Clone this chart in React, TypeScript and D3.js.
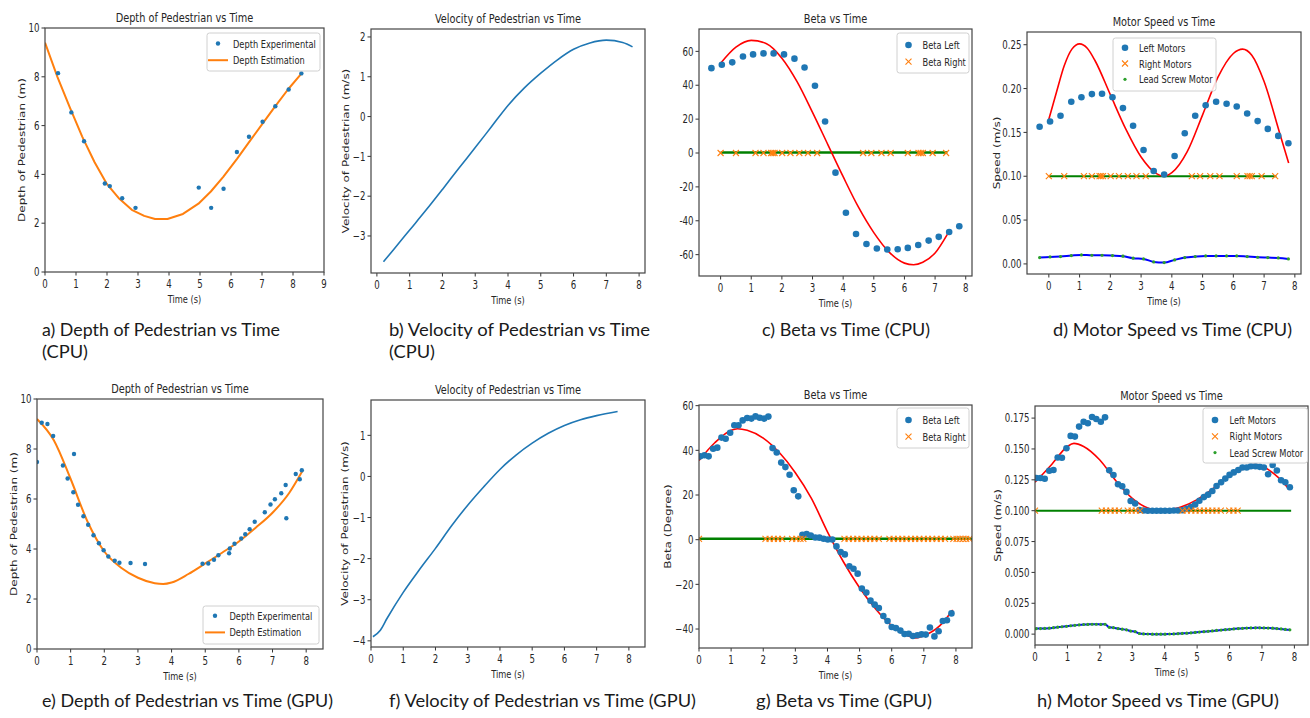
import * as d3 from "d3";
import React, { useEffect, useRef } from "react";

// ---------- CPU run ----------
const depthCpuTime = [0.42, 0.85, 1.26, 1.93, 2.09, 2.49, 2.92, 4.96, 5.36, 5.76, 6.19, 6.58, 7.02, 7.43, 7.86, 8.27];
const depthCpuExp = [8.15, 6.54, 5.36, 3.63, 3.52, 3.02, 2.63, 3.46, 2.63, 3.41, 4.92, 5.54, 6.16, 6.79, 7.48, 8.14];
const depthCpuEstTime = [0, 0.4, 0.8, 1.2, 1.6, 2.0, 2.4, 2.8, 3.2, 3.55, 3.95, 4.45, 4.95, 5.35, 5.75, 6.2, 6.6, 7.0, 7.4, 7.85, 8.25];
const depthCpuEst = [9.4, 8.0, 6.75, 5.55, 4.5, 3.6, 3.0, 2.55, 2.3, 2.17, 2.17, 2.38, 2.8, 3.3, 3.9, 4.65, 5.35, 6.05, 6.75, 7.5, 8.1];

const velCpuTime = [0.2, 0.5, 1, 1.5, 2, 2.5, 3, 3.5, 4, 4.5, 5, 5.5, 6, 6.5, 7, 7.5, 7.8];
const velCpu = [-3.65, -3.35, -2.85, -2.35, -1.83, -1.3, -0.78, -0.25, 0.28, 0.72, 1.09, 1.42, 1.69, 1.85, 1.92, 1.86, 1.75];

const cpuTime = [-0.3, 0.04, 0.38, 0.73, 1.06, 1.4, 1.73, 2.07, 2.41, 2.74, 3.08, 3.41, 3.75, 4.09, 4.42, 4.76, 5.1, 5.44, 5.78, 6.11, 6.45, 6.79, 7.12, 7.46, 7.79];
const betaLeftCpu = [50.1, 52.1, 53.5, 57.0, 58.2, 58.8, 58.8, 58.2, 55.7, 50.5, 39.7, 18.6, -11.6, -35.3, -47.8, -53.7, -56.4, -57.0, -56.8, -56.0, -54.3, -51.7, -49.5, -46.6, -43.2];
const rightCpuTime = [0, 0.5, 1.14, 1.4, 1.65, 1.7, 1.76, 2.01, 2.28, 2.57, 2.85, 3.15, 4.65, 4.92, 5.25, 5.55, 6.11, 6.46, 6.53, 6.6, 6.92, 7.36];
const betaRightCpu = [0, 0, 0, 0, 0, 0, 0, 0, 0, 0, 0, 0, 0, 0, 0, 0, 0, 0, 0, 0, 0, 0];
const betaFitCpuTime = [0, 0.5, 1.0, 1.5, 2.0, 2.5, 3.0, 3.5, 4.0, 4.5, 5.0, 5.5, 6.0, 6.3, 6.6, 7.0, 7.4];
const betaFitCpu = [53, 62.5, 66.5, 64.5, 56, 42, 24, 5, -14, -32, -47, -58.5, -65, -66, -64.5, -59, -48];
const refLineCpuTime = [0, 7.4];
const betaRefCpu = [0.3, 0.3];

const leftMotorCpu = [0.1564, 0.1625, 0.169, 0.185, 0.19, 0.1937, 0.194, 0.19, 0.1777, 0.1575, 0.13, 0.106, 0.102, 0.123, 0.149, 0.169, 0.181, 0.185, 0.1826, 0.1796, 0.1716, 0.1629, 0.154, 0.146, 0.1377];
const rightMotorCpu = [0.1, 0.1, 0.1, 0.1, 0.1, 0.1, 0.1, 0.1, 0.1, 0.1, 0.1, 0.1, 0.1, 0.1, 0.1, 0.1, 0.1, 0.1, 0.1, 0.1, 0.1, 0.1];
const leadScrewCpu = [0.0072, 0.008, 0.0084, 0.0095, 0.0103, 0.0099, 0.0099, 0.0095, 0.0088, 0.0065, 0.0057, 0.0023, 0.0015, 0.0046, 0.0072, 0.0084, 0.0091, 0.0091, 0.0091, 0.0091, 0.0084, 0.0076, 0.0072, 0.0068, 0.0057];
const speedFitCpuTime = [0, 0.25, 0.5, 0.75, 1.0, 1.25, 1.5, 2.0, 2.5, 3.0, 3.5, 3.75, 4.0, 4.5, 5.0, 5.5, 6.0, 6.3, 6.6, 7.0, 7.5, 7.8];
const speedFitCpu = [0.165, 0.196, 0.226, 0.245, 0.251, 0.246, 0.232, 0.193, 0.154, 0.122, 0.103, 0.1, 0.104, 0.128, 0.17, 0.213, 0.24, 0.245, 0.238, 0.208, 0.15, 0.115];
const speedRefCpu = [0.1, 0.1];

// ---------- GPU run ----------
const depthGpuTime = [0.0, 0.14, 0.31, 0.48, 0.77, 0.91, 1.1, 1.08, 1.22, 1.38, 1.52, 1.68, 1.84, 1.98, 2.12, 2.31, 2.45, 2.78, 3.21, 4.92, 5.09, 5.26, 5.39, 5.71, 5.73, 5.87, 6.07, 6.19, 6.32, 6.47, 6.77, 6.94, 7.07, 7.26, 7.39, 7.41, 7.69, 7.81, 7.87];
const depthGpuExp = [7.48, 9.05, 9.0, 8.52, 7.34, 6.82, 7.8, 6.27, 5.77, 5.31, 4.97, 4.55, 4.23, 3.95, 3.7, 3.53, 3.45, 3.44, 3.4, 3.41, 3.42, 3.57, 3.75, 3.83, 4.02, 4.21, 4.42, 4.59, 4.79, 5.09, 5.47, 5.78, 5.99, 6.23, 6.56, 5.23, 7.0, 6.79, 7.15];
const depthGpuEstTime = [0, 0.5, 1.0, 1.5, 2.0, 2.5, 3.0, 3.5, 3.75, 4.0, 4.5, 5.0, 5.5, 6.0, 6.5, 7.0, 7.5, 7.9];
const depthGpuEst = [9.2, 8.35, 6.8, 5.1, 3.9, 3.25, 2.85, 2.63, 2.6, 2.66, 3.0, 3.42, 3.85, 4.3, 4.85, 5.45, 6.25, 7.15];

const velGpuTime = [0.06, 0.29, 0.5, 1.0, 1.5, 2.0, 2.5, 3.0, 3.5, 4.0, 4.5, 5.0, 5.5, 6.0, 6.5, 7.0, 7.65];
const velGpu = [-3.9, -3.74, -3.45, -2.82, -2.27, -1.75, -1.2, -0.7, -0.25, 0.17, 0.52, 0.81, 1.05, 1.24, 1.38, 1.48, 1.58];

const gpuTime = [
  0.04, 0.17, 0.3, 0.44, 0.57, 0.7, 0.83, 0.97, 1.1, 1.23,
  1.36, 1.5, 1.63, 1.76, 1.89, 2.03, 2.16, 2.29, 2.42, 2.56,
  2.69, 2.82, 2.95, 3.09, 3.22, 3.35, 3.48, 3.62, 3.75, 3.88,
  4.01, 4.15, 4.28, 4.41, 4.54, 4.68, 4.81, 4.94, 5.07, 5.21,
  5.34, 5.47, 5.6, 5.74, 5.87, 6.0, 6.13, 6.27, 6.4, 6.53,
  6.66, 6.8, 6.93, 7.06, 7.19, 7.33, 7.46, 7.59, 7.72, 7.86,
];
const betaLeftGpu = [
  37.3, 37.8, 37.3, 40.7, 41.2, 45.7, 45.2, 47.9, 51.2, 51.2,
  53.4, 54.5, 54.2, 55.2, 54.6, 54.2, 55.1, 41.0, 39.0, 34.5,
  32.5, 29.1, 22.1, 19.4, 2.2, 2.5, 1.9, 1.0, 0.9, 0.4,
  0.1, 0.1, -3.0, -5.5, -6.6, -11.9, -13.0, -15.2, -21.9, -23.7,
  -27.3, -29.1, -30.6, -34.2, -36.4, -39.1, -39.6, -40.7, -42.2, -42.1,
  -43.1, -42.8, -42.4, -42.5, -39.3, -43.3, -41.0, -36.4, -36.1, -33.0,
];
const betaRightGpuTime = [0.0, 2.07, 2.2, 2.33, 2.46, 2.59, 2.9, 3.03, 3.16, 3.25, 4.53, 4.66, 4.8, 4.93, 5.06, 5.2, 5.33, 5.46, 5.6, 5.93, 6.06, 6.2, 6.33, 6.46, 6.6, 6.73, 6.86, 7.0, 7.13, 7.26, 7.4, 7.53, 7.66, 7.92, 8.02, 8.12, 8.22, 8.32, 8.42];
const betaRightGpu = [0.4, 0.4, 0.4, 0.4, 0.4, 0.4, 0.4, 0.4, 0.4, 0.4, 0.4, 0.4, 0.4, 0.4, 0.4, 0.4, 0.4, 0.4, 0.4, 0.4, 0.4, 0.4, 0.4, 0.4, 0.4, 0.4, 0.4, 0.4, 0.4, 0.4, 0.4, 0.4, 0.4, 0.4, 0.4, 0.4, 0.4, 0.4, 0.4];
const betaFitGpuTime = [0, 0.5, 1.0, 1.2, 1.5, 2.0, 2.5, 3.0, 3.5, 4.0, 4.5, 5.0, 5.5, 6.0, 6.5, 6.75, 7.0, 7.5, 7.9];
const betaFitGpu = [35.5, 43.5, 49, 49.7, 49, 45.5, 39, 30, 18.5, 3.5, -10, -21.5, -31, -38.5, -43, -44, -43, -38.5, -31.5];
const betaRefGpuTime = [0, 8.5];
const betaRefGpu = [0.4, 0.4];

const leftMotorGpu = [
  0.1265, 0.1265, 0.1259, 0.1324, 0.1329, 0.1431, 0.1429, 0.1506, 0.1606, 0.16,
  0.1681, 0.1721, 0.1708, 0.1759, 0.1743, 0.1721, 0.1756, 0.1327, 0.1289, 0.1214,
  0.1198, 0.1152, 0.1079, 0.1058, 0.1005, 0.1002, 0.1, 0.1, 0.1, 0.1,
  0.1, 0.1, 0.1001, 0.1002, 0.1003, 0.1015, 0.103, 0.105, 0.108, 0.111,
  0.113, 0.116, 0.12, 0.123, 0.126, 0.129, 0.131, 0.133, 0.135, 0.135,
  0.136, 0.136, 0.1355, 0.135, 0.1295, 0.137, 0.1325, 0.1246, 0.123, 0.119,
];
const rightMotorGpuTime = [0.0, 2.06, 2.19, 2.33, 2.46, 2.59, 2.86, 2.98, 3.11, 3.24, 4.55, 4.68, 4.82, 4.95, 5.08, 5.21, 5.34, 5.47, 5.6, 5.73, 5.99, 6.12, 6.25];
const rightMotorGpu = [0.1, 0.1, 0.1, 0.1, 0.1, 0.1, 0.1, 0.1, 0.1, 0.1, 0.1, 0.1, 0.1, 0.1, 0.1, 0.1, 0.1, 0.1, 0.1, 0.1, 0.1, 0.1, 0.1];
const leadScrewGpu = [
  0.0045, 0.0045, 0.0046, 0.0048, 0.0052, 0.0056, 0.006, 0.0063, 0.0068, 0.0071,
  0.0075, 0.0078, 0.0079, 0.008, 0.008, 0.0079, 0.008, 0.0055, 0.0052, 0.0045,
  0.004, 0.0035, 0.0025, 0.002, 0.0005, 0.0002, 0.0001, 0.0, 0.0, 0.0,
  0.0, 0.0001, 0.0002, 0.0004, 0.0006, 0.0008, 0.0011, 0.0014, 0.0017, 0.002,
  0.0023, 0.0026, 0.003, 0.0033, 0.0036, 0.0039, 0.0042, 0.0045, 0.0047, 0.0049,
  0.005, 0.0051, 0.0051, 0.005, 0.0049, 0.0048, 0.0045, 0.0042, 0.0038, 0.0035,
];
const speedFitGpuTime = [0, 0.5, 1.0, 1.2, 1.5, 2.0, 2.5, 3.0, 3.5, 3.8, 4.0, 4.5, 5.0, 5.5, 6.0, 6.5, 6.8, 7.0, 7.5, 7.85];
const speedFitGpu = [0.123, 0.137, 0.152, 0.1545, 0.152, 0.141, 0.124, 0.11, 0.102, 0.1004, 0.1007, 0.103, 0.109, 0.118, 0.128, 0.135, 0.1375, 0.136, 0.127, 0.117];
const speedRefGpuTime = [0, 7.9];
const speedRefGpu = [0.1, 0.1];

// ---------- ticks ----------
const ticks0to9 = [0, 1, 2, 3, 4, 5, 6, 7, 8, 9];
const ticks0to8 = [0, 1, 2, 3, 4, 5, 6, 7, 8];
const depthTicks = [0, 2, 4, 6, 8, 10];
const velCpuTicks = [-3, -2, -1, 0, 1, 2];
const velGpuTicks = [-4, -3, -2, -1, 0, 1];
const betaCpuTicks = [-60, -40, -20, 0, 20, 40, 60];
const betaGpuTicks = [-40, -20, 0, 20, 40, 60];
const speedCpuTicks = [0, 0.05, 0.1, 0.15, 0.2, 0.25];
const speedGpuTicks = [0, 0.025, 0.05, 0.075, 0.1, 0.125, 0.15, 0.175];

const SX = 0.75; // the source plots are squeezed horizontally
const MPL_FONT = "'DejaVu Sans', Verdana, sans-serif";
const CAP_FONT = "Lato, 'Open Sans', sans-serif";
const BLUE = "#1f77b4";
const ORANGE = "#ff7f0e";
const minus = (v) => String(v).replace("-", "\u2212");

const panels = {
  a: { id: "a", left: 45, right: 324, top: 28, bottom: 272, xDomain: [0, 9], yDomain: [0, 10], xTicks: ticks0to9, yTicks: depthTicks, yFmt: String, title: "Depth of Pedestrian vs Time", yLabel: "Depth of Pedestrian (m)", yLabelX: 22 },
  b: { id: "b", left: 371, right: 645, top: 29, bottom: 273, xDomain: [-0.18, 8.18], yDomain: [-3.93, 2.2], xTicks: ticks0to8, yTicks: velCpuTicks, yFmt: minus, title: "Velocity of Pedestrian vs Time", yLabel: "Velocity of Pedestrian (m/s)", yLabelX: 346 },
  c: { id: "c", left: 699, right: 972, top: 29, bottom: 276, xDomain: [-0.705, 8.205], yDomain: [-72.6, 73.2], xTicks: ticks0to8, yTicks: betaCpuTicks, yFmt: String, title: "Beta vs Time", yLabel: null, yLabelX: 0 },
  d: { id: "d", left: 1027, right: 1301, top: 32, bottom: 274, xDomain: [-0.71, 8.2], yDomain: [-0.0115, 0.2645], xTicks: ticks0to8, yTicks: speedCpuTicks, yFmt: d3.format(".2f"), title: "Motor Speed vs Time", yLabel: "Speed (m/s)", yLabelX: 997 },
  e: { id: "e", left: 37, right: 323, top: 399, bottom: 649, xDomain: [0, 8.5], yDomain: [0, 10], xTicks: ticks0to8, yTicks: depthTicks, yFmt: String, title: "Depth of Pedestrian vs Time", yLabel: "Depth of Pedestrian (m)", yLabelX: 14 },
  f: { id: "f", left: 371, right: 645, top: 400, bottom: 647, xDomain: [0, 8.5], yDomain: [-4.15, 1.86], xTicks: ticks0to8, yTicks: velGpuTicks, yFmt: minus, title: "Velocity of Pedestrian vs Time", yLabel: "Velocity of Pedestrian (m/s)", yLabelX: 345 },
  g: { id: "g", left: 699, right: 972, top: 405, bottom: 648, xDomain: [0, 8.5], yDomain: [-48.5, 60.3], xTicks: ticks0to8, yTicks: betaGpuTicks, yFmt: minus, title: "Beta vs Time", yLabel: "Beta (Degree)", yLabelX: 668 },
  h: { id: "h", left: 1035, right: 1308, top: 406, bottom: 645, xDomain: [0, 8.42], yDomain: [-0.0088, 0.1848], xTicks: ticks0to8, yTicks: speedGpuTicks, yFmt: d3.format(".3f"), title: "Motor Speed vs Time", yLabel: "Speed (m/s)", yLabelX: 998 },
};

function label(g, x, y, s, size, anchor = "start", rotate = false) {
  return g
    .append("text")
    .attr("transform", `translate(${x},${y}) scale(${SX},1)${rotate ? " rotate(-90)" : ""}`)
    .attr("text-anchor", anchor)
    .attr("font-family", MPL_FONT)
    .attr("font-size", size)
    .attr("fill", "#262626")
    .text(s);
}

function makeAxes(svg, p) {
  const x = d3.scaleLinear().domain(p.xDomain).range([p.left, p.right]);
  const y = d3.scaleLinear().domain(p.yDomain).range([p.bottom, p.top]);
  const root = svg.append("g");
  svg
    .append("defs")
    .append("clipPath")
    .attr("id", `clip-${p.id}`)
    .append("rect")
    .attr("x", p.left)
    .attr("y", p.top)
    .attr("width", p.right - p.left)
    .attr("height", p.bottom - p.top);
  const plot = root.append("g").attr("clip-path", `url(#clip-${p.id})`);
  return { x, y, root, plot };
}

function finishAxes(ax, p) {
  const { x, y, root } = ax;
  const tk = root.append("g").attr("stroke", "#333").attr("stroke-width", 1);
  p.xTicks.forEach((v) => {
    tk.append("line").attr("x1", x(v)).attr("x2", x(v)).attr("y1", p.bottom).attr("y2", p.bottom + 3.5);
    label(root, x(v), p.bottom + 16, String(v), 11.5, "middle");
  });
  p.yTicks.forEach((v) => {
    tk.append("line").attr("x1", p.left - 3.5).attr("x2", p.left).attr("y1", y(v)).attr("y2", y(v));
    label(root, p.left - 5.5, y(v) + 4.2, p.yFmt(v), 11.5, "end");
  });
  root
    .append("rect")
    .attr("x", p.left)
    .attr("y", p.top)
    .attr("width", p.right - p.left)
    .attr("height", p.bottom - p.top)
    .attr("fill", "none")
    .attr("stroke", "#444")
    .attr("stroke-width", 1.2);
  const cx = (p.left + p.right) / 2;
  label(root, cx, p.top - 6, p.title, 13, "middle");
  label(root, cx, p.bottom + 31, "Time (s)", 11, "middle");
  if (p.yLabel) {
    label(root, p.yLabelX, (p.top + p.bottom) / 2, p.yLabel, 12, "middle", true).attr("dy", "0.35em");
  }
}

function drawLine(ax, ts, vs, color, width, curve = d3.curveLinear) {
  const line = d3
    .line()
    .x((d) => ax.x(d[0]))
    .y((d) => ax.y(d[1]))
    .curve(curve);
  ax.plot
    .append("path")
    .datum(d3.zip(ts, vs))
    .attr("d", line)
    .attr("fill", "none")
    .attr("stroke", color)
    .attr("stroke-width", width)
    .attr("stroke-linejoin", "round");
}

function drawDots(ax, ts, vs, r, color) {
  ax.plot
    .append("g")
    .selectAll("circle")
    .data(d3.zip(ts, vs))
    .join("circle")
    .attr("cx", (d) => ax.x(d[0]))
    .attr("cy", (d) => ax.y(d[1]))
    .attr("r", r)
    .attr("fill", color);
}

function drawCrosses(ax, ts, vs, s, color) {
  ax.plot
    .append("g")
    .attr("stroke", color)
    .attr("stroke-width", 1.1)
    .selectAll("path")
    .data(d3.zip(ts, vs))
    .join("path")
    .attr("d", (d) => {
      const cx = ax.x(d[0]);
      const cy = ax.y(d[1]);
      return `M${cx - s},${cy - s}L${cx + s},${cy + s}M${cx - s},${cy + s}L${cx + s},${cy - s}`;
    });
}

function drawLegend(g, box, rows) {
  g.append("rect")
    .attr("x", box.x)
    .attr("y", box.y)
    .attr("width", box.w)
    .attr("height", box.h)
    .attr("rx", 2.5)
    .attr("fill", "#fff")
    .attr("fill-opacity", 0.85)
    .attr("stroke", "#d0d0d0");
  rows.forEach((r, i) => {
    const cy = box.rowY + i * box.step;
    if (r.kind === "dot") g.append("circle").attr("cx", box.mx).attr("cy", cy).attr("r", r.size).attr("fill", r.color);
    if (r.kind === "line")
      g.append("line").attr("x1", box.mx - 10).attr("x2", box.mx + 10).attr("y1", cy).attr("y2", cy).attr("stroke", r.color).attr("stroke-width", 2);
    if (r.kind === "cross")
      g.append("path")
        .attr("d", `M${box.mx - 3},${cy - 3}L${box.mx + 3},${cy + 3}M${box.mx - 3},${cy + 3}L${box.mx + 3},${cy - 3}`)
        .attr("stroke", r.color)
        .attr("stroke-width", 1.1);
    label(g, box.tx, cy + 4, r.text, 11, "start");
  });
}

function caption(svg, x, y, s, w) {
  svg
    .append("text")
    .attr("x", x)
    .attr("y", y)
    .attr("font-family", CAP_FONT)
    .attr("font-size", 18)
    .attr("fill", "#1a1a1a")
    .attr("textLength", w)
    .attr("lengthAdjust", "spacingAndGlyphs")
    .text(s);
}

const App = () => {
  const svgRef = useRef(null);

  useEffect(() => {
    const svg = d3.select(svgRef.current).html("");
    svg.append("rect").attr("width", 1310).attr("height", 718).attr("fill", "#fff");

    // a) depth CPU
    let ax = makeAxes(svg, panels.a);
    drawLine(ax, depthCpuEstTime, depthCpuEst, ORANGE, 2);
    drawDots(ax, depthCpuTime, depthCpuExp, 2.2, BLUE);
    finishAxes(ax, panels.a);
    drawLegend(ax.root, { x: 207, y: 33, w: 113, h: 38, mx: 218, tx: 233, rowY: 43.5, step: 16.7 }, [
      { kind: "dot", color: BLUE, size: 2.2, text: "Depth Experimental" },
      { kind: "line", color: ORANGE, text: "Depth Estimation" },
    ]);

    // b) velocity CPU
    ax = makeAxes(svg, panels.b);
    drawLine(ax, velCpuTime, velCpu, BLUE, 1.6, d3.curveMonotoneX);
    finishAxes(ax, panels.b);

    // c) beta CPU
    ax = makeAxes(svg, panels.c);
    drawLine(ax, refLineCpuTime, betaRefCpu, "green", 2.5);
    drawLine(ax, betaFitCpuTime, betaFitCpu, "red", 1.6, d3.curveMonotoneX);
    drawDots(ax, cpuTime, betaLeftCpu, 3.3, BLUE);
    drawCrosses(ax, rightCpuTime, betaRightCpu, 3, ORANGE);
    finishAxes(ax, panels.c);
    drawLegend(ax.root, { x: 897, y: 33, w: 72, h: 40, mx: 908.5, tx: 922.5, rowY: 45, step: 16.7 }, [
      { kind: "dot", color: BLUE, size: 3.3, text: "Beta Left" },
      { kind: "cross", color: ORANGE, text: "Beta Right" },
    ]);

    // d) motor speed CPU
    ax = makeAxes(svg, panels.d);
    drawLine(ax, refLineCpuTime, speedRefCpu, "green", 2);
    drawLine(ax, speedFitCpuTime, speedFitCpu, "red", 1.6, d3.curveMonotoneX);
    drawLine(ax, cpuTime, leadScrewCpu, "blue", 2, d3.curveMonotoneX);
    drawDots(ax, cpuTime, leftMotorCpu, 3.3, BLUE);
    drawCrosses(ax, rightCpuTime, rightMotorCpu, 3, ORANGE);
    drawDots(ax, cpuTime, leadScrewCpu, 1.6, "#2ca02c");
    finishAxes(ax, panels.d);
    drawLegend(ax.root, { x: 1113, y: 38, w: 103, h: 53, mx: 1125, tx: 1139, rowY: 47.7, step: 15.8 }, [
      { kind: "dot", color: BLUE, size: 3.3, text: "Left Motors" },
      { kind: "cross", color: ORANGE, text: "Right Motors" },
      { kind: "dot", color: "#2ca02c", size: 1.6, text: "Lead Screw Motor" },
    ]);

    // e) depth GPU
    ax = makeAxes(svg, panels.e);
    drawLine(ax, depthGpuEstTime, depthGpuEst, ORANGE, 2, d3.curveMonotoneX);
    drawDots(ax, depthGpuTime, depthGpuExp, 2.2, BLUE);
    finishAxes(ax, panels.e);
    drawLegend(ax.root, { x: 203, y: 606, w: 116, h: 38, mx: 215, tx: 229.5, rowY: 615.8, step: 16.6 }, [
      { kind: "dot", color: BLUE, size: 2.2, text: "Depth Experimental" },
      { kind: "line", color: ORANGE, text: "Depth Estimation" },
    ]);

    // f) velocity GPU
    ax = makeAxes(svg, panels.f);
    drawLine(ax, velGpuTime, velGpu, BLUE, 1.6, d3.curveMonotoneX);
    finishAxes(ax, panels.f);

    // g) beta GPU
    ax = makeAxes(svg, panels.g);
    drawLine(ax, betaRefGpuTime, betaRefGpu, "green", 2.5);
    drawLine(ax, betaFitGpuTime, betaFitGpu, "red", 1.6, d3.curveMonotoneX);
    drawDots(ax, gpuTime, betaLeftGpu, 3.3, BLUE);
    drawCrosses(ax, betaRightGpuTime, betaRightGpu, 3, ORANGE);
    finishAxes(ax, panels.g);
    drawLegend(ax.root, { x: 897, y: 408, w: 72, h: 40, mx: 908.5, tx: 922.5, rowY: 420, step: 16.7 }, [
      { kind: "dot", color: BLUE, size: 3.3, text: "Beta Left" },
      { kind: "cross", color: ORANGE, text: "Beta Right" },
    ]);

    // h) motor speed GPU
    ax = makeAxes(svg, panels.h);
    drawLine(ax, speedRefGpuTime, speedRefGpu, "green", 2);
    drawLine(ax, speedFitGpuTime, speedFitGpu, "red", 1.6, d3.curveMonotoneX);
    drawLine(ax, gpuTime, leadScrewGpu, "blue", 2, d3.curveMonotoneX);
    drawDots(ax, gpuTime, leftMotorGpu, 3.3, BLUE);
    drawCrosses(ax, rightMotorGpuTime, rightMotorGpu, 3, ORANGE);
    drawDots(ax, gpuTime, leadScrewGpu, 1.6, "#2ca02c");
    finishAxes(ax, panels.h);
    drawLegend(ax.root, { x: 1203, y: 408, w: 104.5, h: 55, mx: 1215, tx: 1229.5, rowY: 420, step: 16.3 }, [
      { kind: "dot", color: BLUE, size: 3.3, text: "Left Motors" },
      { kind: "cross", color: ORANGE, text: "Right Motors" },
      { kind: "dot", color: "#2ca02c", size: 1.6, text: "Lead Screw Motor" },
    ]);

    // figure captions
    caption(svg, 42, 336, "a) Depth of Pedestrian vs Time", 238);
    caption(svg, 42, 358, "(CPU)", 46);
    caption(svg, 389, 336, "b) Velocity of Pedestrian vs Time", 261);
    caption(svg, 389, 358, "(CPU)", 46);
    caption(svg, 762, 336, "c) Beta vs Time (CPU)", 168);
    caption(svg, 1053, 336, "d) Motor Speed vs Time (CPU)", 239);
    caption(svg, 42, 707, "e) Depth of Pedestrian vs Time (GPU)", 291);
    caption(svg, 389, 707, "f) Velocity of Pedestrian vs Time (GPU)", 307);
    caption(svg, 756, 707, "g) Beta vs Time (GPU)", 176);
    caption(svg, 1037, 707, "h) Motor Speed vs Time (GPU)", 242);
  }, []);

  return <svg ref={svgRef} width={1310} height={718} style={{ position: "absolute", left: 0, top: 0 }} />;
};

export default App;
